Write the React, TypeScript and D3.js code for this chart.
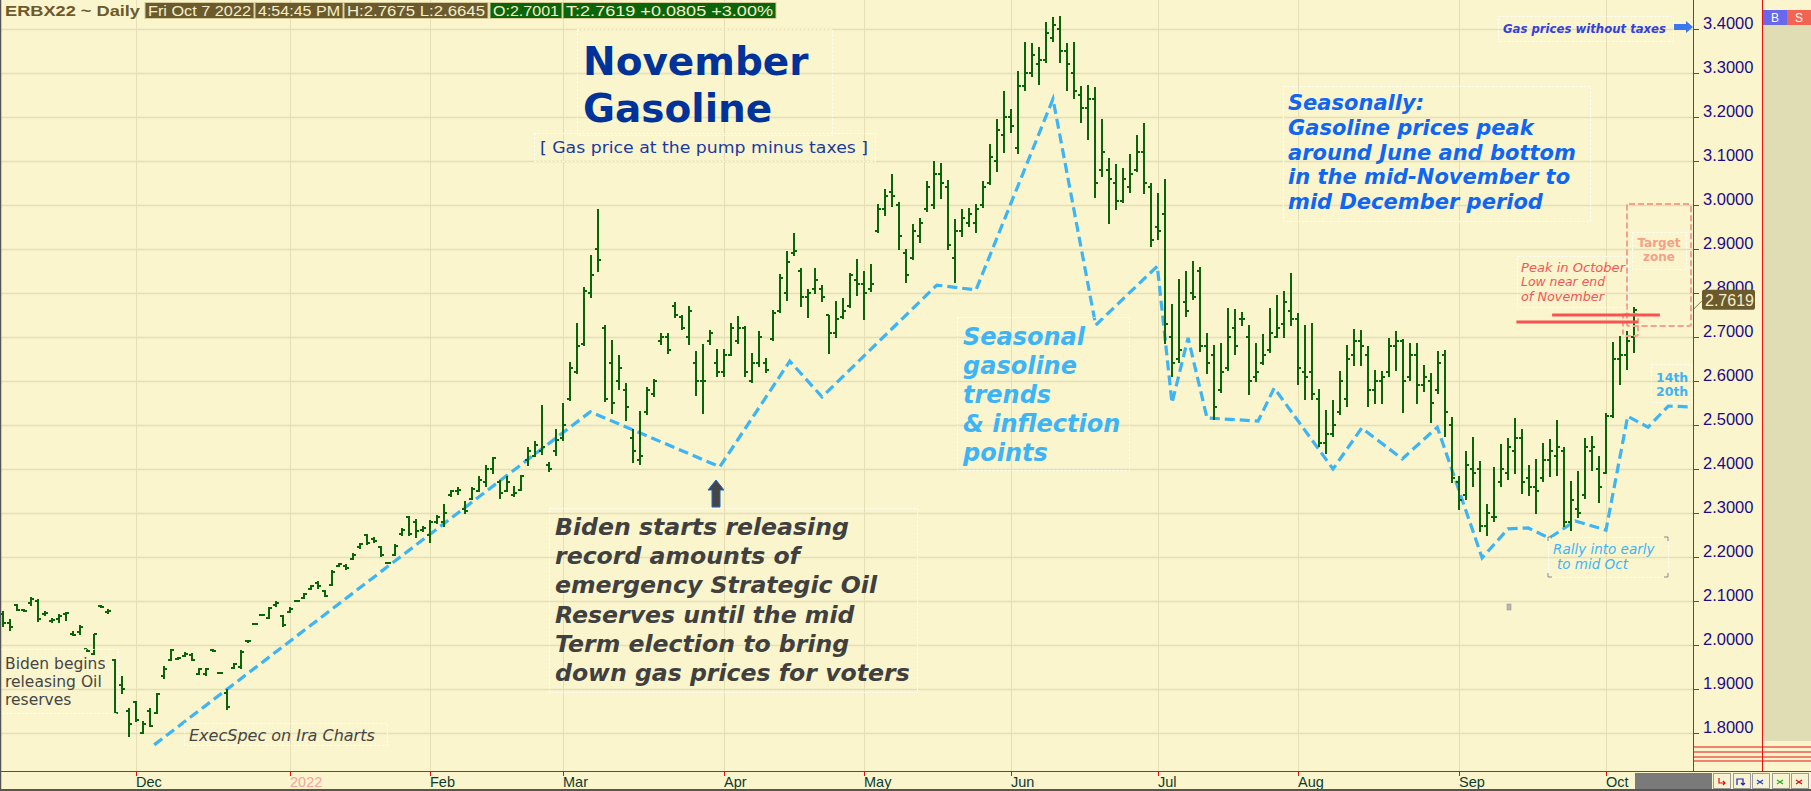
import * as d3 from "d3";

// daily bars, Nov 3 2021 .. Oct 7 2022 (trading-day index = array index)
const highs = [
  2.076, 2.057, 2.092, 2.08, 2.107, 2.104, 2.076, 2.06, 2.07, 2.074, 2.03, 2.044, 1.99, 2.025, 2.089, 2.08,
  1.966, 1.928, 1.856, 1.871, 1.826, 1.856, 1.89, 1.951, 1.99, 1.972, 1.983, 1.98, 1.947, 1.947, 1.99, 1.938,
  1.898, 1.958, 1.987, 2.01, 2.049, 2.07, 2.086, 2.1, 2.066, 2.086, 2.102, 2.117, 2.136, 2.145, 2.125, 2.17,
  2.186, 2.182, 2.208, 2.231, 2.252, 2.245, 2.225, 2.187, 2.229, 2.265, 2.292, 2.286, 2.27, 2.283, 2.295,
  2.32, 2.352, 2.357, 2.326, 2.357, 2.382, 2.409, 2.426, 2.375, 2.382, 2.36, 2.385, 2.449, 2.462, 2.545, 2.414,
  2.489, 2.549, 2.642, 2.73, 2.813, 2.886, 2.989, 2.726, 2.693, 2.657, 2.595, 2.489, 2.53, 2.585, 2.604, 2.707,
  2.708, 2.778, 2.75, 2.769, 2.667, 2.682, 2.715, 2.672, 2.672, 2.73, 2.747, 2.725, 2.663, 2.713, 2.652, 2.761,
  2.841, 2.894, 2.936, 2.856, 2.808, 2.856, 2.818, 2.75, 2.78, 2.788, 2.845, 2.877, 2.848, 2.864, 3.001, 3.036,
  3.069, 3.006, 2.9, 2.955, 2.97, 3.054, 3.099, 3.094, 3.056, 2.967, 2.989, 2.991, 3.001, 3.054, 3.137, 3.195,
  3.258, 3.218, 3.304, 3.37, 3.368, 3.359, 3.414, 3.427, 3.429, 3.368, 3.37, 3.27, 3.271, 3.268, 3.194, 3.105,
  3.092, 3.082, 3.114, 3.158, 3.186, 3.048, 3.026, 3.059, 2.773, 2.83, 2.849, 2.872, 2.857, 2.709, 2.68, 2.686,
  2.764, 2.762, 2.755, 2.726, 2.686, 2.705, 2.764, 2.794, 2.804, 2.845, 2.754, 2.727, 2.73, 2.581, 2.533, 2.555,
  2.621, 2.68, 2.717, 2.714, 2.678, 2.624, 2.621, 2.697, 2.712, 2.695, 2.686, 2.686, 2.636, 2.617, 2.667, 2.67,
  2.517, 2.384, 2.439, 2.472, 2.417, 2.32, 2.404, 2.455, 2.47, 2.515, 2.49, 2.407, 2.422, 2.458, 2.466, 2.51,
  2.449, 2.371, 2.394, 2.47, 2.473, 2.428, 2.526, 2.687, 2.701, 2.712, 2.7675,
];
const lows = [
  2.042, 2.033, 2.078, 2.076, 2.09, 2.053, 2.066, 2.052, 2.052, 2.055, 2.021, 2.023, 1.985, 1.978, 2.085, 2.072,
  1.846, 1.889, 1.792, 1.826, 1.8, 1.814, 1.845, 1.924, 1.964, 1.966, 1.973, 1.964, 1.932, 1.93, 1.985, 1.936,
  1.854, 1.946, 1.947, 2.006, 2.046, 2.067, 2.06, 2.087, 2.042, 2.074, 2.098, 2.106, 2.127, 2.129, 2.111, 2.136,
  2.178, 2.172, 2.195, 2.22, 2.228, 2.233, 2.202, 2.185, 2.203, 2.25, 2.25, 2.245, 2.258, 2.233, 2.277,
  2.27, 2.337, 2.343, 2.3, 2.33, 2.348, 2.361, 2.39, 2.333, 2.348, 2.337, 2.352, 2.407, 2.428, 2.434, 2.394,
  2.43, 2.464, 2.555, 2.616, 2.68, 2.79, 2.848, 2.553, 2.527, 2.58, 2.511, 2.414, 2.411, 2.525, 2.564, 2.684,
  2.663, 2.745, 2.717, 2.682, 2.568, 2.527, 2.682, 2.611, 2.61, 2.657, 2.685, 2.61, 2.596, 2.633, 2.619, 2.693,
  2.755, 2.784, 2.886, 2.769, 2.745, 2.8, 2.78, 2.663, 2.7, 2.742, 2.767, 2.795, 2.74, 2.804, 2.938, 2.976,
  2.997, 2.9, 2.824, 2.877, 2.914, 2.986, 2.991, 3.014, 2.9, 2.823, 2.929, 2.952, 2.938, 2.995, 3.046, 3.077,
  3.12, 3.164, 3.117, 3.26, 3.292, 3.273, 3.323, 3.372, 3.323, 3.26, 3.243, 3.188, 3.15, 3.018, 3.065, 2.959,
  2.989, 3.005, 3.029, 3.077, 3.027, 2.905, 2.921, 2.686, 2.611, 2.641, 2.747, 2.785, 2.668, 2.618, 2.512, 2.573,
  2.624, 2.66, 2.726, 2.569, 2.6, 2.637, 2.664, 2.698, 2.698, 2.727, 2.591, 2.557, 2.557, 2.451, 2.436, 2.473,
  2.523, 2.542, 2.636, 2.636, 2.542, 2.548, 2.548, 2.61, 2.625, 2.528, 2.602, 2.549, 2.576, 2.505, 2.572, 2.473,
  2.369, 2.307, 2.331, 2.361, 2.258, 2.25, 2.28, 2.36, 2.377, 2.389, 2.345, 2.339, 2.299, 2.371, 2.384, 2.386,
  2.269, 2.261, 2.29, 2.333, 2.396, 2.323, 2.389, 2.517, 2.593, 2.627, 2.6645,
];
const opens = [
  2.07, 2.05, 2.09, 2.08, 2.095, 2.1, 2.07, 2.055, 2.06, 2.07, 2.025, 2.03, 1.99, 1.98, 2.089, 2.074,
  1.966, 1.91, 1.85, 1.87, 1.8, 1.85, 1.846, 1.93, 1.966, 1.968, 1.975, 1.978, 1.935, 1.933, 1.988, 1.937,
  1.89, 1.947, 1.95, 2.008, 2.047, 2.068, 2.062, 2.09, 2.065, 2.075, 2.099, 2.107, 2.128, 2.14, 2.122, 2.137,
  2.18, 2.18, 2.196, 2.222, 2.25, 2.24, 2.222, 2.187, 2.205, 2.252, 2.29, 2.28, 2.262, 2.25, 2.28,
  2.28, 2.34, 2.35, 2.31, 2.332, 2.35, 2.37, 2.4, 2.37, 2.35, 2.34, 2.353, 2.42, 2.43, 2.44, 2.41,
  2.44, 2.47, 2.56, 2.62, 2.685, 2.8, 2.9, 2.72, 2.64, 2.6, 2.58, 2.47, 2.42, 2.53, 2.57, 2.69,
  2.7, 2.77, 2.745, 2.7, 2.64, 2.6, 2.69, 2.64, 2.62, 2.66, 2.69, 2.72, 2.6, 2.64, 2.64, 2.695,
  2.76, 2.8, 2.89, 2.85, 2.79, 2.81, 2.81, 2.75, 2.71, 2.745, 2.77, 2.83, 2.82, 2.81, 2.94, 2.99,
  3.03, 3.0, 2.89, 2.88, 2.93, 2.99, 3.0, 3.07, 3.04, 2.88, 2.94, 2.96, 2.96, 3.0, 3.05, 3.1,
  3.16, 3.2, 3.13, 3.27, 3.3, 3.32, 3.33, 3.38, 3.4, 3.35, 3.3, 3.25, 3.22, 3.24, 3.08, 3.08,
  3.05, 3.01, 3.04, 3.08, 3.12, 3.04, 2.95, 2.98, 2.7, 2.65, 2.78, 2.8, 2.85, 2.68, 2.66, 2.58,
  2.63, 2.72, 2.74, 2.7, 2.61, 2.64, 2.67, 2.7, 2.73, 2.76, 2.74, 2.62, 2.62, 2.56, 2.46, 2.48,
  2.53, 2.56, 2.66, 2.69, 2.66, 2.58, 2.6, 2.62, 2.68, 2.69, 2.61, 2.66, 2.59, 2.6, 2.58, 2.66,
  2.5, 2.37, 2.34, 2.4, 2.4, 2.27, 2.29, 2.37, 2.39, 2.44, 2.47, 2.38, 2.36, 2.38, 2.42, 2.43,
  2.44, 2.28, 2.31, 2.34, 2.44, 2.4, 2.39, 2.52, 2.65, 2.66, 2.7001,
];
const closes = [
  2.05, 2.04, 2.08, 2.078, 2.105, 2.06, 2.072, 2.056, 2.066, 2.072, 2.022, 2.04, 1.987, 2.024, 2.087, 2.078,
  1.846, 1.9, 1.82, 1.83, 1.82, 1.815, 1.888, 1.946, 1.988, 1.97, 1.98, 1.965, 1.945, 1.946, 1.986, 1.937,
  1.86, 1.957, 1.985, 2.009, 2.048, 2.069, 2.084, 2.095, 2.045, 2.082, 2.101, 2.115, 2.135, 2.135, 2.112, 2.165,
  2.185, 2.176, 2.205, 2.229, 2.232, 2.236, 2.205, 2.186, 2.226, 2.262, 2.252, 2.26, 2.266, 2.28, 2.292,
  2.3, 2.35, 2.352, 2.305, 2.355, 2.375, 2.4, 2.425, 2.345, 2.37, 2.345, 2.383, 2.44, 2.455, 2.45, 2.4,
  2.465, 2.5, 2.63, 2.68, 2.805, 2.84, 2.875, 2.56, 2.55, 2.63, 2.54, 2.44, 2.43, 2.58, 2.6, 2.7,
  2.67, 2.75, 2.72, 2.76, 2.6, 2.6, 2.71, 2.62, 2.66, 2.72, 2.72, 2.62, 2.64, 2.7, 2.625, 2.755,
  2.835, 2.87, 2.895, 2.79, 2.8, 2.83, 2.79, 2.71, 2.74, 2.76, 2.84, 2.82, 2.8, 2.82, 2.99, 3.02,
  3.02, 2.93, 2.84, 2.94, 2.96, 3.04, 3.07, 3.05, 2.91, 2.94, 2.97, 2.98, 2.99, 3.04, 3.11, 3.17,
  3.2, 3.18, 3.27, 3.3, 3.34, 3.33, 3.39, 3.41, 3.35, 3.32, 3.26, 3.22, 3.24, 3.05, 3.12, 3.06,
  3.01, 3.06, 3.07, 3.12, 3.05, 2.92, 2.94, 2.73, 2.64, 2.67, 2.76, 2.79, 2.68, 2.64, 2.54, 2.62,
  2.7, 2.68, 2.74, 2.6, 2.62, 2.66, 2.71, 2.72, 2.78, 2.74, 2.63, 2.61, 2.57, 2.46, 2.48, 2.5,
  2.6, 2.65, 2.69, 2.68, 2.58, 2.6, 2.61, 2.68, 2.69, 2.6, 2.66, 2.59, 2.61, 2.55, 2.64, 2.53,
  2.38, 2.33, 2.41, 2.39, 2.27, 2.3, 2.29, 2.4, 2.45, 2.47, 2.37, 2.36, 2.35, 2.42, 2.44, 2.45,
  2.28, 2.33, 2.3, 2.45, 2.45, 2.36, 2.52, 2.65, 2.66, 2.69, 2.7619,
];

// seasonal trend line: bar index / price
const seasonalIdx = [21.6, 83.9, 102.4, 112.4, 117, 133.4, 139, 150, 156.1, 164.9, 167, 169.3, 172, 179.3, 181.6, 190, 194.1, 199.9, 204.9, 211.3, 215, 217.9, 220.9, 224.6, 229, 232.1, 235, 237.9, 241.3];
const seasonalVal = [1.773, 2.53, 2.405, 2.645, 2.564, 2.818, 2.807, 3.241, 2.727, 2.861, 2.55, 2.698, 2.516, 2.509, 2.584, 2.4, 2.493, 2.423, 2.495, 2.198, 2.264, 2.266, 2.243, 2.282, 2.261, 2.52, 2.495, 2.543, 2.541];

const monthLabels = ["Dec", "2022", "Feb", "Mar", "Apr", "May", "Jun", "Jul", "Aug", "Sep", "Oct"];
const monthStartIdx = [19, 41, 61, 80, 103, 123, 144, 165, 185, 208, 229];

const headerBoxes = [
  { text: "Fri Oct 7 2022", x0: 145, x1: 254, fill: "#6b5a2e" },
  { text: "4:54:45 PM", x0: 255, x1: 343, fill: "#6b5a2e" },
  { text: "H:2.7675  L:2.6645", x0: 344, x1: 488, fill: "#6b5a2e" },
  { text: "O:2.7001", x0: 490, x1: 562, fill: "#0b650b" },
  { text: "T:2.7619  +0.0805  +3.00%", x0: 563, x1: 776, fill: "#0b650b" },
];

const BG = "#faf5cc";
const GRID = "#e6dfb6";
const BAR = "#0a640a";
const AXIS_RED = "#e81010";
const SKY = "#3db4f6";
const VERDANA = "'DejaVu Sans', Verdana, sans-serif";
const ARIAL = "'Liberation Sans', Arial, sans-serif";

function DashBox({ x, y, w, h }: { x: number; y: number; w: number; h: number }) {
  return <rect x={x + 0.5} y={y + 0.5} width={w} height={h} fill="none" stroke="#ffffff" strokeDasharray="2 2" strokeWidth={1} />;
}

export default function App() {
  const x = d3.scaleLinear().domain([0, 241]).range([3, 1690]);
  const y = d3.scaleLinear().domain([1.8, 3.4]).range([733, 29]);
  const AXIS_X = 1693;
  const BOTTOM = 771;
  const priceTicks = y.ticks(16);
  const fmt = d3.format(".4f");

  const seasonalPath = d3
    .line<number>()
    .x((i) => x(seasonalIdx[i]))
    .y((i) => y(seasonalVal[i]))(seasonalIdx.map((_, i) => i));

  const last = closes[closes.length - 1];
  const lastY = y(last);

  return (
    <svg width={1811} height={791} style={{ position: "absolute", left: 0, top: 0, display: "block" }}>
      <rect width={1811} height={791} fill={BG} />

      {/* grid */}
      {priceTicks.map((t) => (
        <line key={"h" + t} x1={0} x2={AXIS_X} y1={Math.round(y(t)) + 0.5} y2={Math.round(y(t)) + 0.5} stroke={GRID} strokeWidth={1.5} />
      ))}
      {monthStartIdx.map((m) => (
        <line key={"v" + m} x1={Math.round(x(m)) + 0.5} x2={Math.round(x(m)) + 0.5} y1={0} y2={BOTTOM} stroke={GRID} strokeWidth={1} />
      ))}

      {/* seasonal dashed line */}
      <path d={seasonalPath ?? ""} fill="none" stroke={SKY} strokeWidth={3.2} strokeDasharray="10 5" />

      {/* OHLC bars */}
      <g stroke={BAR} strokeWidth={2} shapeRendering="crispEdges">
        {highs.map((h, i) => {
          const cx = Math.round(x(i));
          return (
            <g key={i}>
              <line x1={cx} x2={cx} y1={y(h) - 0.5} y2={y(lows[i]) + 0.5} />
              <line x1={cx - 3} x2={cx} y1={Math.round(y(opens[i]))} y2={Math.round(y(opens[i]))} />
              <line x1={cx} x2={cx + 3} y1={Math.round(y(closes[i]))} y2={Math.round(y(closes[i]))} />
            </g>
          );
        })}
      </g>

      {/* title */}
      <DashBox x={577} y={29} w={255} h={106} />
      <text x={583} y={75} fontFamily={VERDANA} fontWeight="bold" fontSize={39} fill="#003399">November</text>
      <text x={583} y={122} fontFamily={VERDANA} fontWeight="bold" fontSize={39} fill="#003399">Gasoline</text>
      <DashBox x={534} y={133} w={341} h={28} />
      <text x={540} y={153} fontFamily={VERDANA} fontSize={16} fill="#1a3aa0" textLength={328} lengthAdjust="spacingAndGlyphs">
        [ Gas price at the pump minus taxes ]
      </text>

      {/* left notes */}
      <DashBox x={0} y={649} w={118} h={64} />
      {["Biden begins", "releasing Oil", "reserves"].map((s, k) => (
        <text key={s} x={5} y={669 + k * 18} fontFamily={VERDANA} fontSize={15.5} fill="#454545">{s}</text>
      ))}
      <DashBox x={184} y={723} w={203} h={22} />
      <text x={189} y={741} fontFamily={VERDANA} fontStyle="italic" fontSize={16} fill="#454545">ExecSpec on Ira Charts</text>

      {/* Biden starts */}
      <polygon points="716,480 724,490 720,490 720,507 712,507 712,490 708,490" fill="#454545" stroke="#1e64c8" strokeWidth={1} />
      <DashBox x={549} y={508} w={368} h={184} />
      {[
        "Biden starts releasing",
        "record amounts of",
        "emergency Strategic Oil",
        "Reserves until the mid",
        "Term election to bring",
        "down gas prices for voters",
      ].map((s, k) => (
        <text key={s} x={555} y={535 + k * 29.2} fontFamily={VERDANA} fontWeight="bold" fontStyle="italic" fontSize={23.6} fill="#404040">{s}</text>
      ))}

      {/* seasonal trends note */}
      <DashBox x={957} y={317} w={172} h={153} />
      {["Seasonal", "gasoline", "trends", "& inflection", "points"].map((s, k) => (
        <text key={s} x={963} y={345 + k * 29} fontFamily={VERDANA} fontWeight="bold" fontStyle="italic" fontSize={24} fill={SKY}>{s}</text>
      ))}

      {/* seasonally note */}
      <DashBox x={1283} y={86} w={307} h={135} />
      {[
        "Seasonally:",
        "Gasoline prices peak",
        "around June and bottom",
        "in the mid-November to",
        "mid December period",
      ].map((s, k) => (
        <text key={s} x={1288} y={110 + k * 24.8} fontFamily={VERDANA} fontWeight="bold" fontStyle="italic" fontSize={21} fill="#0f66f2">{s}</text>
      ))}

      {/* gas prices without taxes */}
      <DashBox x={1498} y={16} w={175} h={25} />
      <text x={1503} y={33} fontFamily={VERDANA} fontStyle="italic" fontWeight="bold" fontSize={12.5} fill="#3340dd" textLength={163} lengthAdjust="spacingAndGlyphs">Gas prices without taxes</text>
      <polygon points="1674,24 1686,24 1686,21 1693,27 1686,33 1686,30 1674,30" fill="#3a78f0" />

      {/* target zone */}
      <rect x={1627} y={204} width={64} height={122} fill="none" stroke="#f6a08e" strokeWidth={2} strokeDasharray="6 3" rx={2} />
      <rect x={1623} y={314} width={15} height={22} fill="none" stroke="#f6a08e" strokeWidth={2} strokeDasharray="5 3" rx={2} />
      <DashBox x={1632} y={232} w={54} h={37} />
      <text x={1659} y={247} textAnchor="middle" fontFamily={VERDANA} fontWeight="bold" fontSize={12} fill="#f4a08a">Target</text>
      <text x={1659} y={261} textAnchor="middle" fontFamily={VERDANA} fontWeight="bold" fontSize={12} fill="#f4a08a">zone</text>

      <DashBox x={1517} y={256} w={111} h={51} />
      {["Peak in October", "Low near end", "of November"].map((s, k) => (
        <text key={s} x={1521} y={271.5 + k * 14.6} fontFamily={VERDANA} fontStyle="italic" fontSize={12} fill="#f05858" textLength={[104, 84, 83][k]} lengthAdjust="spacingAndGlyphs">{s}</text>
      ))}
      <line x1={x(221.3)} x2={x(236.7)} y1={y(2.75)} y2={y(2.75)} stroke="#fa5252" strokeWidth={3} />
      <line x1={x(216.2)} x2={x(233.6)} y1={y(2.734)} y2={y(2.734)} stroke="#fa5252" strokeWidth={3} />

      {/* 14th / 20th */}
      <DashBox x={1651} y={364} w={40} h={38} />
      <text x={1656} y={382} fontFamily={VERDANA} fontWeight="bold" fontSize={12.5} fill={SKY}>14th</text>
      <text x={1656} y={396} fontFamily={VERDANA} fontWeight="bold" fontSize={12.5} fill={SKY}>20th</text>

      {/* rally note */}
      <DashBox x={1548} y={537} w={120} h={40} />
      <path d="M1548,541 v-4 h4 M1664,537 h4 v4 M1548,573 v4 h4 M1664,577 h4 v-4" stroke="#888" strokeWidth={1} fill="none" />
      <text x={1553} y={554} fontFamily={VERDANA} fontStyle="italic" fontSize={13.5} fill={SKY}>Rally into early</text>
      <text x={1557} y={569} fontFamily={VERDANA} fontStyle="italic" fontSize={13.5} fill={SKY}>to mid Oct</text>
      <rect x={1507} y={604} width={4} height={6} fill="#b8b8b8" stroke="#888" strokeWidth={0.5} />

      {/* header */}
      <text x={5} y={16} fontFamily={ARIAL} fontWeight="bold" fontSize={15.5} fill="#6b5a2e" textLength={135} lengthAdjust="spacingAndGlyphs">ERBX22 ~ Daily</text>
      {headerBoxes.map((b) => (
        <g key={b.text}>
          <rect x={b.x0} y={2.5} width={b.x1 - b.x0} height={16} fill={b.fill} stroke="#d8cc98" strokeWidth={1} />
          <text x={b.x0 + 3} y={16} fontFamily={ARIAL} fontSize={15} fill="#f6efc8" textLength={b.x1 - b.x0 - 6} lengthAdjust="spacingAndGlyphs">{b.text}</text>
        </g>
      ))}

      {/* right panel */}
      <rect x={1763} y={10} width={48} height={731} fill="#e0dcb4" />
      <rect x={1763} y={10} width={24} height={15} fill="#6868ee" />
      <rect x={1787} y={10} width={24} height={15} fill="#f26452" />
      <text x={1775} y={22} textAnchor="middle" fontFamily={ARIAL} fontSize={12} fill="#fff">B</text>
      <text x={1799} y={22} textAnchor="middle" fontFamily={ARIAL} fontSize={12} fill="#fff">S</text>
      {[747, 752, 757, 761].map((yy) => (
        <line key={yy} x1={AXIS_X} x2={1811} y1={yy} y2={yy} stroke={AXIS_RED} strokeWidth={1} />
      ))}
      <line x1={1762.5} x2={1762.5} y1={0} y2={BOTTOM} stroke={AXIS_RED} strokeWidth={1} />

      {/* price axis */}
      <line x1={AXIS_X + 0.5} x2={AXIS_X + 0.5} y1={0} y2={BOTTOM} stroke={AXIS_RED} strokeWidth={1} />
      {priceTicks.map((t) => (
        <g key={"t" + t}>
          <line x1={AXIS_X} x2={AXIS_X + 6} y1={Math.round(y(t)) + 0.5} y2={Math.round(y(t)) + 0.5} stroke={AXIS_RED} strokeWidth={1} />
          <text x={1703} y={y(t)} fontFamily={ARIAL} fontSize={16.5} fill="#1c0a8c">{fmt(t)}</text>
        </g>
      ))}
      <line x1={AXIS_X} y1={lastY} x2={1702} y2={lastY - 9} stroke="#6b5a2e" strokeWidth={0.8} />
      <rect x={1702} y={lastY - 20} width={53} height={20} rx={2} fill="#6b5a2e" />
      <text x={1705} y={lastY - 4} fontFamily={ARIAL} fontSize={16} fill="#f6efc8">{d3.format(".4f")(last)}</text>

      {/* time axis */}
      <line x1={0} x2={1811} y1={BOTTOM + 0.5} y2={BOTTOM + 0.5} stroke={AXIS_RED} strokeWidth={1} />
      {monthStartIdx.map((m, k) => (
        <g key={"m" + m}>
          <line x1={Math.round(x(m)) + 0.5} x2={Math.round(x(m)) + 0.5} y1={BOTTOM} y2={BOTTOM + 5} stroke={AXIS_RED} strokeWidth={1} />
          <text x={Math.round(x(m))} y={787} fontFamily={ARIAL} fontSize={14.5} fill={monthLabels[k] === "2022" ? "#f5a3a3" : "#0d3b30"}>
            {monthLabels[k]}
          </text>
        </g>
      ))}

      {/* bottom-right widgets */}
      <rect x={1635} y={773} width={77} height={17} fill="#7a7a7a" />
      {[
        { bx: 1713, c: "#e01010", d: "M1719,778 v5 h6 M1723,781 l2,2 l-2,2" },
        { bx: 1733, c: "#2020c0", d: "M1737,785 v-6 h6 v6 M1741,783 l2,2 l2,-2" },
        { bx: 1752, c: "#2040e0", d: "M1757,780 l3,2 l3,-2 M1757,784 l3,-2 l3,2" },
        { bx: 1772, c: "#20b020", d: "M1777,780 l3,2 l3,-2 M1777,784 l3,-2 l3,2" },
        { bx: 1791, c: "#e01010", d: "M1796,780 l3,2 l3,-2 M1796,784 l3,-2 l3,2" },
      ].map((b) => (
        <g key={b.bx}>
          <rect x={b.bx + 0.5} y={773.5} width={17} height={15} fill="#f7f2d2" stroke="#9a9a9a" strokeWidth={1} />
          <path d={b.d} stroke={b.c} strokeWidth={1.2} fill="none" />
        </g>
      ))}

      {/* frame */}
      <line x1={0.5} x2={0.5} y1={0} y2={791} stroke="#555" strokeWidth={1.5} />
      <line x1={0} x2={1811} y1={790} y2={790} stroke="#555" strokeWidth={2} />
    </svg>
  );
}
